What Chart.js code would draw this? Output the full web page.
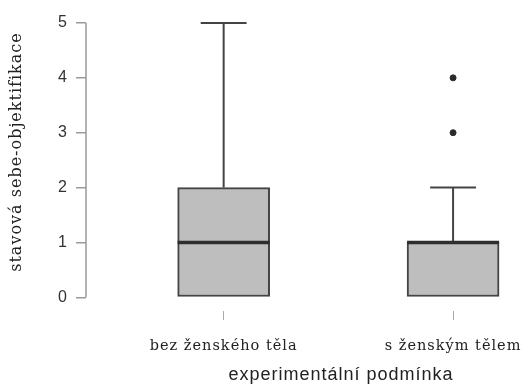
<!DOCTYPE html>
<html>
<head>
<meta charset="utf-8">
<script src="https://cdn.jsdelivr.net/npm/chart.js@4/dist/chart.umd.min.js"></script>
<style>
html,body{margin:0;padding:0;background:#fff;}
#wrap{width:523px;height:385px;position:relative;}
</style>
</head>
<body>
<div id="wrap"><canvas id="c"></canvas></div>
<script>
const categories = ['bez ženského těla', 's ženským tělem'];
const q1Values = [0, 0];
const medianValues = [1, 1];
const q3Values = [2, 1];
const whiskerLow = [0, 0];
const whiskerHigh = [5, 2];
const outlierValues = [[], [3, 4]];
const yTickValues = [0, 1, 2, 3, 4, 5];
const xTitle = 'experimentální podmínka';
const yTitle = 'stavová sebe-objektifikace';

const positions = categories.map((_, i) => i + 1);
const boxData = positions.map((x, i) => ({x: x, y: [q1Values[i], q3Values[i]]}));
const outlierData = [];
outlierValues.forEach((arr, i) => arr.forEach(v => outlierData.push({x: positions[i], y: v})));

const boxPlugin = {
  id: 'boxExtras',
  beforeDraw(chart) {
    chart.ctx.letterSpacing = '1px';
  },
  beforeDatasetsDraw(chart) {
    const {ctx, scales: {x, y}} = chart;
    ctx.save();
    ctx.strokeStyle = '#9a9a9a';
    ctx.lineWidth = 1.5;
    ctx.beginPath();
    const ax = chart.chartArea.left;
    ctx.moveTo(ax, y.getPixelForValue(yTickValues[0]));
    ctx.lineTo(ax, y.getPixelForValue(yTickValues[yTickValues.length - 1]));
    ctx.stroke();
    ctx.strokeStyle = '#444';
    ctx.lineWidth = 2;
    positions.forEach((p, i) => {
      const cx = x.getPixelForValue(p);
      const capHalf = (x.getPixelForValue(p + 0.1) - cx);
      const segs = [[q3Values[i], whiskerHigh[i]], [q1Values[i], whiskerLow[i]]];
      segs.forEach(([a, b]) => {
        if (a === b) return;
        ctx.beginPath();
        ctx.moveTo(cx, y.getPixelForValue(a));
        ctx.lineTo(cx, y.getPixelForValue(b));
        ctx.stroke();
        ctx.beginPath();
        ctx.moveTo(cx - capHalf, y.getPixelForValue(b));
        ctx.lineTo(cx + capHalf, y.getPixelForValue(b));
        ctx.stroke();
      });
    });
    ctx.restore();
  },
  afterDatasetsDraw(chart) {
    const {ctx, scales: {y}} = chart;
    const meta = chart.getDatasetMeta(0);
    ctx.save();
    ctx.strokeStyle = '#2e2e2e';
    ctx.lineWidth = 3.5;
    meta.data.forEach((bar, i) => {
      const half = bar.width / 2;
      const my = y.getPixelForValue(medianValues[i]);
      ctx.beginPath();
      ctx.moveTo(bar.x - half, my);
      ctx.lineTo(bar.x + half, my);
      ctx.stroke();
    });
    ctx.restore();
  },
  afterDraw(chart) {
    const ctx = chart.ctx;
    ctx.save();
    ctx.letterSpacing = '1px';
    ctx.fillStyle = '#222';
    ctx.font = '18px "Liberation Sans"';
    ctx.textAlign = 'center';
    ctx.textBaseline = 'alphabetic';
    ctx.fillText(xTitle, 341, 380);
    ctx.translate(17, 152);
    ctx.rotate(-Math.PI / 2);
    ctx.font = '16px "DejaVu Serif"';
    ctx.textBaseline = 'middle';
    ctx.fillText(yTitle, 0, 0);
    ctx.restore();
  }
};

new Chart(document.getElementById('c'), {
  type: 'bar',
  data: {
    datasets: [
      {
        type: 'bar',
        data: boxData,
        backgroundColor: '#bebebe',
        borderColor: '#444',
        borderWidth: 2,
        borderSkipped: false,
        barThickness: 92,
        order: 2
      },
      {
        type: 'scatter',
        data: outlierData,
        backgroundColor: '#2a2a2a',
        borderColor: '#2a2a2a',
        pointRadius: 3,
        order: 1
      }
    ]
  },
  options: {
    responsive: true,
    maintainAspectRatio: false,
    animation: false,
    layout: {padding: {top: 23, right: 0, bottom: 0, left: 0}},
    plugins: {legend: {display: false}, tooltip: {enabled: false}},
    scales: {
      x: {
        type: 'linear',
        offset: false,
        min: 0.4,
        max: 2.283,
        afterBuildTicks(scale) { scale.ticks = positions.map(v => ({value: v})); },
        afterFit(scale) { scale.height = 74; scale.paddingLeft = 0; scale.paddingRight = 0; },
        ticks: {
          callback: (v) => categories[positions.indexOf(v)] || '',
          font: {family: 'DejaVu Serif', size: 14.5},
          color: '#222',
          padding: 18,
          maxRotation: 0,
          autoSkip: false
        },
        grid: {display: true, offset: false, drawOnChartArea: false, drawTicks: true, tickLength: 9, color: '#aaa', lineWidth: 1},
        border: {display: false},
        title: {display: false}
      },
      y: {
        type: 'linear',
        min: -0.25,
        max: 5,
        afterBuildTicks(scale) { scale.ticks = yTickValues.map(v => ({value: v})); },
        afterFit(scale) { scale.width = 86; scale.paddingTop = 0; scale.paddingBottom = 0; },
        ticks: {font: {family: 'Liberation Sans', size: 16}, color: '#333', padding: 8},
        grid: {display: true, drawOnChartArea: false, tickLength: 10, color: '#9a9a9a', lineWidth: 1.5},
        border: {display: false},
        title: {display: false}
      }
    }
  },
  plugins: [boxPlugin]
});
</script>
</body>
</html>
